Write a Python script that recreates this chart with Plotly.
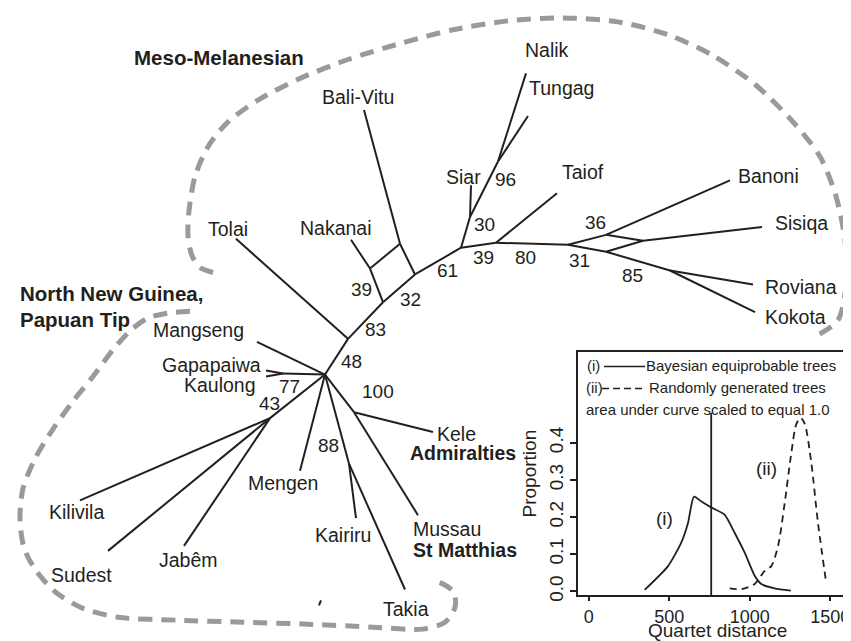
import plotly.graph_objects as go

# ---------------- data ----------------
# tree nodes (layout coordinates of the unrooted network, in picture units)
node_names = ["H", "N83", "Tolai", "N32", "R1", "Nakanai", "R2", "Bali-Vitu", "N61", "A",
              "SiarJ", "Siar", "NT", "Nalik", "Tungag", "TJ", "Taiof", "B", "C36", "D",
              "Banoni", "SJ", "Sisiqa", "E", "Roviana", "Kokota", "Mangseng", "GK",
              "Gapapaiwa", "Kaulong", "F", "Kilivila", "Sudest", "Jabêm", "Mengen", "G",
              "Kairiru", "Takia", "K", "Kele", "Mussau", "s1", "s2"]
node_x = [317, 340, 228, 375, 362, 343, 392, 356, 407, 453,
          462, 463, 490, 518, 520, 488, 549, 560, 598, 598,
          722, 635, 754, 662, 745, 747, 249, 275,
          258, 258, 262, 72, 100, 176, 292, 341,
          348, 397, 346, 425, 410, 311, 313]
node_y = [370, 334, 233, 297, 263, 234, 238, 103, 269, 242,
          211, 179, 155, 66, 109, 237, 187, 239, 229, 246,
          174, 235, 221, 265, 279, 307, 337, 369,
          366, 372, 414, 497, 548, 543, 467, 460,
          515, 587, 408, 428, 512, 603, 598]
edges = [("H", "N83"), ("N83", "Tolai"), ("N83", "N32"), ("N32", "R1"), ("R1", "Nakanai"),
         ("R1", "R2"), ("R2", "Bali-Vitu"), ("R2", "N61"), ("N32", "N61"), ("N61", "A"),
         ("A", "SiarJ"), ("SiarJ", "Siar"), ("SiarJ", "NT"), ("NT", "Nalik"), ("NT", "Tungag"),
         ("A", "TJ"), ("TJ", "Taiof"), ("TJ", "B"), ("B", "C36"), ("B", "D"),
         ("C36", "Banoni"), ("C36", "SJ"), ("D", "SJ"), ("SJ", "Sisiqa"), ("D", "E"),
         ("E", "Roviana"), ("E", "Kokota"), ("H", "Mangseng"), ("H", "GK"),
         ("GK", "Gapapaiwa"), ("GK", "Kaulong"), ("H", "F"), ("F", "Kilivila"),
         ("F", "Sudest"), ("F", "Jabêm"), ("H", "Mengen"), ("H", "G"), ("G", "Kairiru"),
         ("G", "Takia"), ("H", "K"), ("K", "Kele"), ("K", "Mussau"), ("s1", "s2")]

# taxon labels
taxa = ["Nalik", "Tungag", "Siar", "Taiof", "Banoni", "Sisiqa", "Roviana", "Kokota",
        "Bali-Vitu", "Nakanai", "Tolai", "Mangseng", "Gapapaiwa", "Kaulong", "Kele",
        "Mussau", "Mengen", "Kairiru", "Takia", "Kilivila", "Sudest", "Jabêm"]
taxa_x = [539, 553, 455, 575, 760, 793, 793, 787, 350, 328, 220, 190, 203, 212, 427,
          403, 275, 335, 398, 68, 73, 180]
taxa_y = [42, 81, 171, 166, 170, 217, 282, 312, 90, 222, 223, 325, 360, 381, 430,
          526, 479, 532, 607, 509, 572, 557]
taxa_anchor = ["center"] * 14 + ["left", "left"] + ["center"] * 6

# support values
support = ["83", "48", "100", "77", "43", "88", "39", "32", "61", "30", "96", "39",
           "80", "31", "36", "85"]
support_x = [367, 343, 370, 281, 261, 320, 353, 402, 439, 476, 497, 475, 517, 571, 587, 624]
support_y = [325, 357, 387, 382, 399, 442, 284, 294, 265, 219, 173, 252, 252, 255, 217, 270]

# group labels
groups = ["Meso-Melanesian", "North New Guinea,", "Papuan Tip", "Admiralties", "St Matthias"]
groups_x = [211, 10, 10, 400, 403]
groups_y = [50, 288, 314, 449, 547]
groups_anchor = ["center", "left", "left", "left", "left"]

# dashed group outlines
meso_x = [205, 192, 184, 180, 181, 187, 200, 220, 250, 290, 340, 395, 445, 500, 555, 610,
          660, 705, 748, 785, 812, 828, 837, 838, 830, 810]
meso_y = [267, 262, 250, 230, 205, 170, 140, 115, 93, 72, 52, 35, 22, 13, 10, 14,
          27, 48, 78, 115, 150, 190, 235, 280, 315, 330]
nng_x = [182, 160, 140, 123, 105, 85, 65, 45, 27, 15, 12, 16, 28, 48, 75, 110, 170, 235,
         300, 365, 415, 437, 447, 446, 436, 425]
nng_y = [306, 308, 313, 325, 345, 372, 397, 425, 455, 485, 515, 545, 568, 590, 606, 615,
         618, 620, 622, 625, 627, 620, 605, 590, 582, 578]

# inset: quartet distance distributions
bayes_x = [348, 493, 575, 617, 654, 700, 761, 845, 907, 969, 1031, 1072, 1155, 1255]
bayes_y = [0.004, 0.068, 0.131, 0.184, 0.255, 0.242, 0.226, 0.206, 0.157, 0.104, 0.042,
           0.020, 0.008, 0.002]
rand_x = [876, 948, 1031, 1093, 1134, 1176, 1217, 1258, 1290, 1317, 1342, 1383, 1424, 1476]
rand_y = [0.008, 0.006, 0.020, 0.055, 0.068, 0.122, 0.237, 0.371, 0.451, 0.467, 0.451,
          0.344, 0.184, 0.020]
observed_distance = 761
x_ticks = [0, 500, 1000, 1500]
y_ticks = [0.0, 0.1, 0.2, 0.3, 0.4]

# ---------------- figure ----------------
INK = "#231f20"
FONT = "Liberation Sans"
W, H = 851, 641
pos = {n: (x, y) for n, x, y in zip(node_names, node_x, node_y)}

ex, ey = [], []
for a, b in edges:
    ex += [pos[a][0], pos[b][0], None]
    ey += [pos[a][1], pos[b][1], None]

fig = go.Figure()
for px, py in [(meso_x, meso_y), (nng_x, nng_y)]:
    fig.add_trace(go.Scatter(x=px, y=py, mode="lines", xaxis="x", yaxis="y",
                             line=dict(color="#9a9a9a", width=5, dash="14px,9px",
                                       shape="spline", smoothing=0.8),
                             hoverinfo="skip", showlegend=False))
fig.add_trace(go.Scatter(x=ex, y=ey, mode="lines", xaxis="x", yaxis="y",
                         line=dict(color=INK, width=2), hoverinfo="skip", showlegend=False))

# inset curves
fig.add_trace(go.Scatter(x=bayes_x, y=bayes_y, mode="lines", xaxis="x2", yaxis="y2",
                         line=dict(color=INK, width=1.8, shape="spline", smoothing=0.6),
                         showlegend=False))
fig.add_trace(go.Scatter(x=rand_x, y=rand_y, mode="lines", xaxis="x2", yaxis="y2",
                         line=dict(color=INK, width=1.8, dash="7px,5px", shape="spline",
                                   smoothing=0.8),
                         showlegend=False))
fig.add_trace(go.Scatter(x=[observed_distance, observed_distance], y=[-0.02, 0.48],
                         mode="lines", xaxis="x2", yaxis="y2",
                         line=dict(color=INK, width=1.8), showlegend=False))

ann = []
for t, x, y, a in zip(taxa, taxa_x, taxa_y, taxa_anchor):
    ann.append(dict(x=x, y=y, xref="x", yref="y", text=t, showarrow=False, xanchor=a,
                    yanchor="middle", font=dict(family=FONT, size=19.5, color=INK)))
for t, x, y in zip(support, support_x, support_y):
    ann.append(dict(x=x, y=y, xref="x", yref="y", text=t, showarrow=False,
                    xanchor="center", yanchor="middle",
                    font=dict(family=FONT, size=19, color=INK)))
for i, (t, x, y, a) in enumerate(zip(groups, groups_x, groups_y, groups_anchor)):
    ann.append(dict(x=x, y=y, xref="x", yref="y", text="<b>" + t + "</b>", showarrow=False,
                    xanchor=a, yanchor="middle",
                    font=dict(family=FONT, size=20.5 if i < 3 else 19.5, color=INK)))

# inset legend (drawn as text + sample lines)
leg_font = dict(family=FONT, size=15, color=INK)
ann += [
    dict(x=577, y=361, xref="x", yref="y", text="(i)", showarrow=False, xanchor="left",
         font=leg_font),
    dict(x=636, y=361, xref="x", yref="y", text="Bayesian equiprobable trees",
         showarrow=False, xanchor="left", font=leg_font),
    dict(x=576, y=383, xref="x", yref="y", text="(ii)", showarrow=False, xanchor="left",
         font=leg_font),
    dict(x=639, y=383, xref="x", yref="y", text="Randomly generated trees",
         showarrow=False, xanchor="left", font=leg_font),
    dict(x=576, y=405, xref="x", yref="y", text="area under curve scaled to equal 1.0",
         showarrow=False, xanchor="left", font=leg_font),
    dict(x=472, y=0.197, xref="x2", yref="y2", text="(i)", showarrow=False,
         font=dict(family=FONT, size=19, color=INK)),
    dict(x=1103, y=0.33, xref="x2", yref="y2", text="(ii)", showarrow=False,
         font=dict(family=FONT, size=19, color=INK)),
    dict(x=0.5, y=628, xref="x2 domain", yref="y", text="Quartet distance",
         showarrow=False, xanchor="center", yanchor="middle", borderpad=0,
         font=dict(family=FONT, size=19, color=INK)),
]

shapes = [
    dict(type="line", xref="x", yref="y", x0=596, x1=637, y0=362, y1=362,
         line=dict(color=INK, width=1.5)),
    dict(type="line", xref="x", yref="y", x0=594, x1=637, y0=384, y1=384,
         line=dict(color=INK, width=1.5, dash="7px,4px")),
]

x0d, x1d = 570 / W, 848 / W
y0d, y1d = (H - 593) / H, (H - 347) / H

fig.update_layout(
    width=W, height=H, margin=dict(l=0, r=0, t=0, b=0),
    paper_bgcolor="white", plot_bgcolor="rgba(0,0,0,0)",
    annotations=ann, shapes=shapes,
    xaxis=dict(range=[0, W], domain=[0, 1], visible=False, fixedrange=True),
    yaxis=dict(range=[H, 0], domain=[0, 1], visible=False, fixedrange=True),
    xaxis2=dict(domain=[x0d, x1d], anchor="y2", range=[-66, 1660], tickvals=x_ticks,
                showline=True, mirror=True, linecolor=INK, linewidth=1.5,
                ticks="outside", ticklen=4, tickwidth=1.5, tickcolor=INK,
                showgrid=False, zeroline=False,
                tickfont=dict(family=FONT, size=18, color=INK)),
    yaxis2=dict(domain=[y0d, y1d], anchor="x2", range=[-0.011, 0.645], tickvals=y_ticks,
                tickformat=".1f", tickangle=-90,
                showline=True, mirror=True, linecolor=INK, linewidth=1.5,
                ticks="outside", ticklen=6, tickwidth=1.5, tickcolor=INK,
                showgrid=False, zeroline=False,
                tickfont=dict(family=FONT, size=19, color=INK),
                title=dict(text="Proportion", standoff=4,
                           font=dict(family=FONT, size=19, color=INK))),
    font=dict(family=FONT, color=INK),
)

fig.write_html("out.html")
